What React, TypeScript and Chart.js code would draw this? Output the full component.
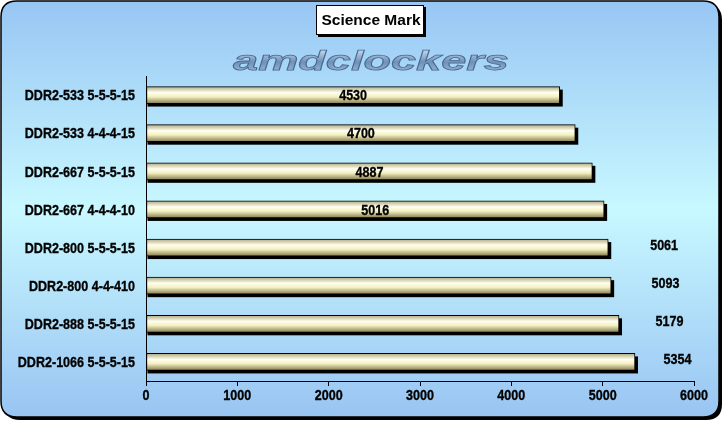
import React, { useEffect, useRef } from "react";
import { Chart, registerables } from "chart.js";

Chart.register(...registerables);

const categories = [
  "DDR2-533 5-5-5-15",
  "DDR2-533 4-4-4-15",
  "DDR2-667 5-5-5-15",
  "DDR2-667 4-4-4-10",
  "DDR2-800 5-5-5-15",
  "DDR2-800 4-4-410",
  "DDR2-888 5-5-5-15",
  "DDR2-1066 5-5-5-15",
];
const scores = [4530, 4700, 4887, 5016, 5061, 5093, 5179, 5354];
const titleText = "Science Mark";
const watermarkText = "amdclockers";
const insideLabelCount = 4;

const FONT = "'Liberation Sans', Arial, sans-serif";
const NARROW_SCALE = 0.81;
const LABEL_FONT = `bold 15.5px ${FONT}`;

function roundRect(ctx: CanvasRenderingContext2D, x: number, y: number, w: number, h: number, r: number) {
  ctx.beginPath();
  ctx.moveTo(x + r, y);
  ctx.lineTo(x + w - r, y);
  ctx.quadraticCurveTo(x + w, y, x + w, y + r);
  ctx.lineTo(x + w, y + h - r);
  ctx.quadraticCurveTo(x + w, y + h, x + w - r, y + h);
  ctx.lineTo(x + r, y + h);
  ctx.quadraticCurveTo(x, y + h, x, y + h - r);
  ctx.lineTo(x, y + r);
  ctx.quadraticCurveTo(x, y, x + r, y);
  ctx.closePath();
}

function narrowText(ctx: CanvasRenderingContext2D, text: string, x: number, y: number, align: CanvasTextAlign) {
  ctx.save();
  ctx.translate(x, y);
  ctx.scale(NARROW_SCALE, 1);
  ctx.textAlign = align;
  ctx.textBaseline = "middle";
  ctx.font = LABEL_FONT;
  ctx.fillStyle = "#000000";
  ctx.strokeStyle = "#000000";
  ctx.lineWidth = 0.35;
  ctx.fillText(text, 0, 0);
  ctx.strokeText(text, 0, 0);
  ctx.restore();
}

const decorPlugin = {
  id: "decor",
  beforeDraw(chart: any) {
    const ctx: CanvasRenderingContext2D = chart.ctx;
    const W = chart.width;
    const H = chart.height;
    ctx.save();
    ctx.fillStyle = "#ffffff";
    ctx.fillRect(0, 0, W, H);
    roundRect(ctx, 4, 4, W - 9, H - 8, 16);
    ctx.fillStyle = "#000000";
    ctx.fill();
    const g = ctx.createLinearGradient(0, 1, 0, H - 6);
    g.addColorStop(0, "#98c6f4");
    g.addColorStop(0.5, "#c8f8ff");
    g.addColorStop(1, "#98c4f2");
    roundRect(ctx, 1, 1, W - 9, H - 8, 16);
    ctx.fillStyle = g;
    ctx.fill();
    ctx.lineWidth = 1.5;
    ctx.strokeStyle = "#000000";
    ctx.stroke();

    const bx = 316, by = 5, bw = 108, bh = 30;
    ctx.fillStyle = "#000000";
    ctx.fillRect(bx + 2, by + 2, bw, bh);
    ctx.fillStyle = "#ffffff";
    ctx.fillRect(bx, by, bw, bh);
    ctx.lineWidth = 1;
    ctx.strokeRect(bx + 0.5, by + 0.5, bw - 1, bh - 1);
    ctx.fillStyle = "#000000";
    ctx.font = `bold 15.5px ${FONT}`;
    ctx.textAlign = "center";
    ctx.textBaseline = "middle";
    ctx.fillText(titleText, bx + bw / 2 + 1, by + bh / 2 + 1);

    ctx.save();
    ctx.translate(371, 62);
    ctx.scale(2.05, 1.25);
    ctx.font = `italic bold 22px ${FONT}`;
    ctx.textAlign = "center";
    ctx.textBaseline = "middle";
    const wg = ctx.createLinearGradient(0, -12, 0, 12);
    wg.addColorStop(0, "#dceaf8");
    wg.addColorStop(0.5, "#6f90b8");
    wg.addColorStop(1, "#b0c6e2");
    ctx.fillStyle = wg;
    ctx.fillText(watermarkText, 0, 0);
    ctx.lineWidth = 0.6;
    ctx.strokeStyle = "#46688f";
    ctx.strokeText(watermarkText, 0, 0);
    ctx.restore();
    ctx.restore();
  },
  beforeDatasetsDraw(chart: any) {
    const ctx: CanvasRenderingContext2D = chart.ctx;
    const meta = chart.getDatasetMeta(0);
    ctx.save();
    ctx.fillStyle = "#000000";
    meta.data.forEach((el: any) => {
      const h = el.height;
      ctx.fillRect(el.base + 1, el.y - h / 2 + 3, el.x - el.base + 2, h);
    });
    ctx.restore();
  },
  afterDatasetsDraw(chart: any) {
    const ctx: CanvasRenderingContext2D = chart.ctx;
    const meta = chart.getDatasetMeta(0);
    const rightEdge = chart.width - 7;
    meta.data.forEach((el: any, i: number) => {
      const v = String(chart.data.datasets[0].data[i]);
      if (i < insideLabelCount) {
        narrowText(ctx, v, (el.base + el.x) / 2, el.y + 1, "center");
      } else {
        narrowText(ctx, v, (el.x + rightEdge) / 2, el.y - 2, "center");
      }
    });
  },
  afterDraw(chart: any) {
    const ctx: CanvasRenderingContext2D = chart.ctx;
    const ys = chart.scales.y;
    const xs = chart.scales.x;
    ys.ticks.forEach((_t: any, i: number) => {
      narrowText(ctx, String(chart.data.labels[i]), ys.right - 11, ys.getPixelForTick(i) + 1, "right");
    });
    xs.ticks.forEach((t: any, i: number) => {
      narrowText(ctx, String(t.value), xs.getPixelForTick(i), xs.top + 15, "center");
    });
  },
};

export default function App() {
  const ref = useRef<HTMLCanvasElement | null>(null);
  useEffect(() => {
    document.body.style.margin = "0";
    const canvas = ref.current!;
    const chart = new Chart(canvas, {
      type: "bar",
      data: {
        labels: categories,
        datasets: [
          {
            data: scores,
            backgroundColor: (c: any) => {
              const ch = c.chart;
              const ys = ch.scales && ch.scales.y;
              if (!ys || c.dataIndex === undefined) return "#f4f0c0";
              const y = ys.getPixelForValue(c.dataIndex);
              if (!Number.isFinite(y)) return "#f4f0c0";
              const g = ch.ctx.createLinearGradient(0, y - 8.5, 0, y + 8.5);
              g.addColorStop(0, "#b0a880");
              g.addColorStop(0.35, "#fffff0");
              g.addColorStop(0.6, "#f4f0c0");
              g.addColorStop(1, "#847c52");
              return g;
            },
            borderColor: "#000000",
            borderWidth: 1,
            borderSkipped: false,
            barThickness: 17,
          },
        ],
      },
      options: {
        indexAxis: "y",
        animation: false,
        responsive: false,
        maintainAspectRatio: false,
        layout: { padding: { top: 76, right: 33, bottom: 0, left: 0 } },
        plugins: {
          legend: { display: false },
          title: { display: false },
          tooltip: { enabled: false },
        },
        scales: {
          x: {
            min: 0,
            max: 6000,
            ticks: {
              stepSize: 1000,
              display: false,
            },
            grid: { drawOnChartArea: false, drawTicks: true, tickLength: 5, color: "#000000" },
            border: { color: "#000000", width: 1 },
            afterFit: (s: any) => {
              s.height = 43;
            },
          },
          y: {
            ticks: { display: false },
            grid: { drawOnChartArea: false, drawTicks: false },
            border: { color: "#000000", width: 1 },
            afterFit: (s: any) => {
              s.width = 146;
            },
          },
        },
      },
      plugins: [decorPlugin],
    } as any);
    chart.update();
    return () => chart.destroy();
  }, []);
  return (
    <div style={{ width: 727, height: 424 }}>
      <canvas ref={ref} width={727} height={424} style={{ display: "block" }} />
    </div>
  );
}
